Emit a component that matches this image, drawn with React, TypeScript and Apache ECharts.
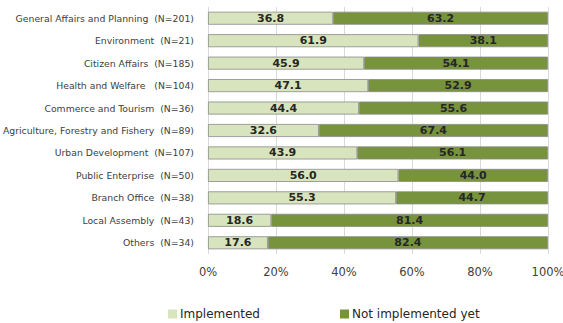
import React, { useEffect, useRef } from "react";
import * as echarts from "echarts";

const categories = [
  "General Affairs and Planning  (N=201)",
  "Environment  (N=21)",
  "Citizen Affairs  (N=185)",
  "Health and Welfare   (N=104)",
  "Commerce and Tourism  (N=36)",
  "Agriculture, Forestry and Fishery  (N=89)",
  "Urban Development  (N=107)",
  "Public Enterprise  (N=50)",
  "Branch Office  (N=38)",
  "Local Assembly  (N=43)",
  "Others  (N=34)",
];
const implemented = [36.8, 61.9, 45.9, 47.1, 44.4, 32.6, 43.9, 56.0, 55.3, 18.6, 17.6];
const notImplemented = [63.2, 38.1, 54.1, 52.9, 55.6, 67.4, 56.1, 44.0, 44.7, 81.4, 82.4];
const seriesNames = ["Implemented", "Not implemented yet"];

const FONT = "DejaVu Sans";

export default function App() {
  const ref = useRef<HTMLDivElement>(null);
  useEffect(() => {
    if (!ref.current) return;
    const chart = echarts.init(ref.current, undefined, { renderer: "svg" });
    const label = {
      show: true,
      position: "inside",
      fontFamily: FONT,
      fontWeight: "bold",
      fontSize: 11,
      color: "#262626",
      formatter: (p: any) => p.value.toFixed(1),
    };
    const legendBase = {
      top: 303,
      itemWidth: 9,
      itemHeight: 9,
      icon: "rect",
      itemStyle: { borderWidth: 0 },
      textStyle: { fontFamily: FONT, fontSize: 12, color: "#262626", padding: [0, 0, 0, -2] },
    };
    chart.setOption({
      animation: false,
      textStyle: { fontFamily: FONT },
      grid: { left: 208, right: 15, top: 7, bottom: 69, containLabel: false, outerBoundsMode: "none" },
      legend: [
        { ...legendBase, data: [seriesNames[0]], left: 163 },
        { ...legendBase, data: [seriesNames[1]], left: 335 },
      ],
      xAxis: {
        type: "value",
        min: 0,
        max: 100,
        interval: 20,
        axisLabel: {
          formatter: "{value}%",
          fontFamily: FONT,
          fontSize: 11.5,
          color: "#404040",
          margin: 12,
        },
        splitLine: { lineStyle: { color: "#d9d9d9" } },
        axisLine: { show: false },
        axisTick: { show: false },
      },
      yAxis: {
        type: "category",
        data: categories,
        inverse: true,
        axisLabel: { fontFamily: FONT, fontSize: 9.3, color: "#404040", margin: 14 },
        axisLine: { show: false },
        axisTick: { show: false },
      },
      series: [
        {
          name: seriesNames[0],
          type: "bar",
          stack: "total",
          data: implemented,
          barWidth: 13,
          itemStyle: { color: "#d7e4bd", borderColor: "#8a8a8a", borderWidth: 0.8 },
          label,
        },
        {
          name: seriesNames[1],
          type: "bar",
          stack: "total",
          data: notImplemented,
          barWidth: 13,
          itemStyle: { color: "#77933c", borderColor: "#8a8a8a", borderWidth: 0.8 },
          label,
        },
      ],
    });
    return () => chart.dispose();
  }, []);
  return <div ref={ref} style={{ width: 563, height: 323, position: "absolute", left: 0, top: 0, background: "#fff" }} />;
}
